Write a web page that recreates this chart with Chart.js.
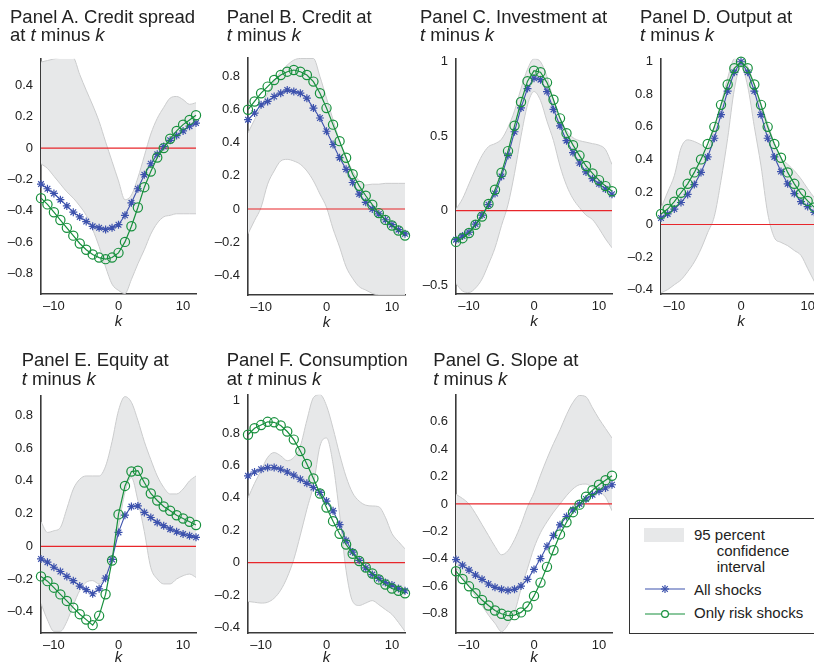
<!DOCTYPE html>
<html>
<head>
<meta charset="utf-8">
<script src="https://cdn.jsdelivr.net/npm/chart.js@4.4.1/dist/chart.umd.min.js"></script>
<style>
  body { margin:0; width:814px; height:666px; overflow:hidden; background:#fff; position:relative;
         font-family:"Liberation Sans", Arial, sans-serif; color:#222; }
  canvas { position:absolute; }
  .ttl { position:absolute; font-size:18.5px; line-height:18.5px; white-space:nowrap; z-index:2; }
  .lg { position:absolute; font-size:15px; line-height:15px; white-space:nowrap; z-index:2; }
  #legendBox { position:absolute; left:629px; top:518px; width:200px; height:116px;
               border:1px solid #333; box-sizing:border-box; background:#fff; }
</style>
</head>
<body>
<div id="legendBox"></div>
<script>
// ====== DATA ======
const ks = [-12,-11,-10,-9,-8,-7,-6,-5,-4,-3,-2,-1,0,1,2,3,4,5,6,7,8,9,10,11,12];
const xTicks = [-10, 0, 10];
const zeroLevel = 0;

// Panel A. Credit spread
const spreadAll  = [-0.23,-0.26,-0.29,-0.33,-0.37,-0.41,-0.44,-0.47,-0.50,-0.51,-0.52,-0.51,-0.49,-0.43,-0.35,-0.26,-0.17,-0.10,-0.04,0.01,0.05,0.08,0.11,0.14,0.16];
const spreadRisk = [-0.32,-0.36,-0.41,-0.46,-0.51,-0.56,-0.61,-0.65,-0.68,-0.70,-0.71,-0.70,-0.67,-0.60,-0.50,-0.38,-0.25,-0.15,-0.06,0.00,0.06,0.11,0.15,0.18,0.21];
const spreadHi   = [0.55,0.56,0.57,0.58,0.59,0.58,0.47,0.37,0.275,0.17,0.04,-0.085,-0.21,-0.33,-0.30,-0.19,-0.05,0.09,0.19,0.26,0.32,0.33,0.31,0.28,0.29];
const spreadLo   = [-0.10,-0.13,-0.18,-0.23,-0.28,-0.32,-0.37,-0.43,-0.52,-0.63,-0.76,-0.87,-0.91,-0.93,-0.84,-0.74,-0.65,-0.55,-0.48,-0.44,-0.43,-0.42,-0.42,-0.42,-0.42];
const spreadTicks = [-0.8,-0.6,-0.4,-0.2,0,0.2,0.4];

// Panel B. Credit
const creditAll  = [0.54,0.58,0.63,0.65,0.68,0.70,0.72,0.71,0.70,0.67,0.61,0.55,0.47,0.39,0.31,0.24,0.16,0.09,0.04,0.00,-0.03,-0.065,-0.095,-0.125,-0.15];
const creditRisk = [0.60,0.65,0.70,0.74,0.78,0.81,0.83,0.84,0.83,0.81,0.77,0.70,0.61,0.51,0.41,0.31,0.21,0.14,0.08,0.026,-0.025,-0.066,-0.10,-0.13,-0.16];
const creditHi   = [0.46,0.54,0.62,0.70,0.77,0.83,0.87,0.90,0.91,0.91,0.91,0.80,0.67,0.54,0.41,0.31,0.23,0.17,0.145,0.15,0.15,0.155,0.155,0.155,0.155];
const creditLo   = [-0.15,-0.07,0.01,0.15,0.23,0.29,0.30,0.29,0.27,0.23,0.17,0.09,0.01,-0.12,-0.23,-0.35,-0.42,-0.47,-0.49,-0.51,-0.52,-0.52,-0.52,-0.52,-0.52];
const creditTicks = [-0.4,-0.2,0,0.2,0.4,0.6,0.8];

// Panel C. Investment
const investAll  = [-0.195,-0.17,-0.145,-0.09,-0.03,0.04,0.115,0.23,0.37,0.53,0.69,0.82,0.89,0.88,0.80,0.68,0.57,0.47,0.39,0.32,0.26,0.215,0.18,0.145,0.11];
const investRisk = [-0.21,-0.185,-0.15,-0.095,-0.04,0.045,0.14,0.255,0.40,0.57,0.73,0.87,0.94,0.93,0.86,0.745,0.62,0.52,0.44,0.37,0.30,0.25,0.205,0.165,0.13];
const investHi   = [0.01,0.08,0.18,0.28,0.37,0.43,0.45,0.48,0.56,0.67,0.82,0.95,1.02,1.00,0.90,0.74,0.62,0.54,0.49,0.47,0.46,0.45,0.44,0.41,0.31];
const investLo   = [-0.49,-0.54,-0.55,-0.52,-0.46,-0.36,-0.25,-0.10,0.04,0.25,0.50,0.71,0.80,0.74,0.60,0.47,0.30,0.17,0.08,0.02,-0.03,-0.06,-0.12,-0.19,-0.25];
const investTicks = [-0.5,0,0.5,1];

// Panel D. Output
const outputAll  = [0.04,0.065,0.095,0.135,0.185,0.245,0.32,0.415,0.53,0.675,0.82,0.935,1.0,0.935,0.82,0.675,0.53,0.415,0.325,0.25,0.19,0.14,0.11,0.075,0.045];
const outputRisk = [0.065,0.095,0.14,0.195,0.25,0.32,0.40,0.495,0.60,0.735,0.86,0.96,1.0,0.96,0.86,0.735,0.60,0.495,0.41,0.32,0.25,0.19,0.145,0.105,0.07];
const outputHi   = [0.10,0.20,0.30,0.47,0.52,0.51,0.49,0.47,0.60,0.74,0.90,1.02,1.03,0.97,0.86,0.74,0.62,0.50,0.41,0.37,0.33,0.28,0.22,0.165,0.12];
const outputLo   = [-0.42,-0.40,-0.37,-0.34,-0.29,-0.23,-0.15,-0.05,0.05,0.27,0.53,0.83,0.97,0.85,0.60,0.36,0.07,-0.08,-0.11,-0.13,-0.16,-0.19,-0.27,-0.35,-0.42];
const outputTicks = [-0.4,-0.2,0,0.2,0.4,0.6,0.8,1];

// Panel E. Equity
const equityAll  = [-0.077,-0.097,-0.128,-0.154,-0.184,-0.21,-0.243,-0.265,-0.29,-0.26,-0.195,-0.08,0.085,0.19,0.243,0.247,0.207,0.176,0.146,0.126,0.105,0.089,0.075,0.065,0.055];
const equityRisk = [-0.184,-0.213,-0.253,-0.294,-0.334,-0.375,-0.415,-0.448,-0.482,-0.425,-0.293,-0.087,0.195,0.369,0.457,0.462,0.39,0.323,0.28,0.243,0.217,0.19,0.17,0.15,0.13];
const equityHi   = [0.15,0.085,0.095,0.115,0.23,0.35,0.41,0.43,0.43,0.43,0.49,0.64,0.83,0.915,0.88,0.77,0.64,0.53,0.43,0.36,0.32,0.32,0.35,0.40,0.43];
const equityLo   = [-0.35,-0.45,-0.52,-0.52,-0.46,-0.36,-0.27,-0.22,-0.21,-0.23,-0.18,-0.07,0.12,0.33,0.42,0.28,0.09,-0.13,-0.20,-0.23,-0.23,-0.20,-0.18,-0.17,-0.19];
const equityTicks = [-0.4,-0.2,0,0.2,0.4,0.6,0.8];

// Panel F. Consumption
const consAll  = [0.536,0.56,0.577,0.587,0.587,0.577,0.56,0.54,0.515,0.49,0.464,0.434,0.38,0.32,0.235,0.137,0.065,0.014,-0.033,-0.074,-0.098,-0.123,-0.139,-0.16,-0.174];
const consRisk = [0.79,0.83,0.85,0.87,0.867,0.847,0.81,0.76,0.69,0.61,0.52,0.427,0.34,0.256,0.178,0.112,0.055,0.01,-0.03,-0.067,-0.104,-0.135,-0.16,-0.174,-0.19];
const consHi   = [0.40,0.49,0.57,0.65,0.68,0.66,0.63,0.65,0.72,0.88,1.02,1.04,0.97,0.83,0.67,0.53,0.43,0.38,0.355,0.35,0.345,0.28,0.18,0.13,0.085];
const consLo   = [-0.24,-0.245,-0.25,-0.245,-0.22,-0.17,-0.09,0.02,0.17,0.33,0.48,0.72,0.77,0.61,0.30,-0.05,-0.24,-0.265,-0.25,-0.235,-0.26,-0.29,-0.32,-0.37,-0.425];
const consTicks = [-0.4,-0.2,0,0.2,0.4,0.6,0.8,1];

// Panel G. Slope
const slopeAll  = [-0.405,-0.446,-0.482,-0.518,-0.549,-0.583,-0.607,-0.622,-0.63,-0.622,-0.598,-0.549,-0.477,-0.398,-0.308,-0.229,-0.152,-0.092,-0.043,0,0.036,0.067,0.092,0.116,0.14];
const slopeRisk = [-0.49,-0.547,-0.60,-0.65,-0.70,-0.74,-0.776,-0.80,-0.814,-0.81,-0.79,-0.747,-0.67,-0.573,-0.458,-0.337,-0.222,-0.133,-0.06,-0.005,0.053,0.10,0.14,0.173,0.205];
const slopeHi   = [0.07,0.04,0.0,-0.07,-0.15,-0.23,-0.31,-0.37,-0.34,-0.26,-0.15,-0.02,0.08,0.21,0.33,0.44,0.54,0.65,0.74,0.79,0.78,0.70,0.62,0.55,0.48];
const slopeLo   = [-0.46,-0.53,-0.60,-0.67,-0.74,-0.81,-0.87,-0.93,-0.88,-0.79,-0.62,-0.47,-0.32,-0.21,-0.13,-0.06,0.0,0.06,0.11,0.14,0.145,0.12,0.09,0.05,-0.05];
const slopeTicks = [-0.8,-0.6,-0.4,-0.2,0,0.2,0.4,0.6];

// ====== STYLE ======
const FONT = '"Liberation Sans", Arial, sans-serif';
const INK = '#222';
const AXIS = '#3a3a3a';
const BAND = '#e7e8e9';
const BAND_EDGE = '#cbcccd';
const RED = '#e8262b';
const BLUE = '#3d52ad';
const GREEN = '#17903d';

// ====== PANELS (data refs + layout: plot box [left, right, top, bottom]) ======
const panels = [
  { all: spreadAll, risk: spreadRisk, hi: spreadHi, lo: spreadLo, yTicks: spreadTicks, ymin: -0.933, ymax: 0.571,
    box: [41, 196, 57, 294], row: 0, title: ['Panel A. Credit spread', 'at <i>t</i> minus <i>k</i>'], tx: 10 },
  { all: creditAll, risk: creditRisk, hi: creditHi, lo: creditLo, yTicks: creditTicks, ymin: -0.52, ymax: 0.914,
    box: [248, 405, 56, 295], row: 0, title: ['Panel B. Credit at', '<i>t</i> minus <i>k</i>'], tx: 226.7 },
  { all: investAll, risk: investRisk, hi: investHi, lo: investLo, yTicks: investTicks, ymin: -0.56, ymax: 1.02,
    box: [456, 612, 57, 294], row: 0, title: ['Panel C. Investment at', '<i>t</i> minus <i>k</i>'], tx: 420 },
  { all: outputAll, risk: outputRisk, hi: outputHi, lo: outputLo, yTicks: outputTicks, ymin: -0.427, ymax: 1.018,
    box: [661, 821, 57, 294], row: 0, title: ['Panel D. Output at', '<i>t</i> minus <i>k</i>'], tx: 640 },
  { all: equityAll, risk: equityRisk, hi: equityHi, lo: equityLo, yTicks: equityTicks, ymin: -0.53, ymax: 0.92,
    box: [41, 196, 394, 633], row: 1, title: ['Panel E. Equity at', '<i>t</i> minus <i>k</i>'], tx: 21.7 },
  { all: consAll, risk: consRisk, hi: consHi, lo: consLo, yTicks: consTicks, ymin: -0.435, ymax: 1.037,
    box: [248, 405, 393, 633], row: 1, title: ['Panel F. Consumption', 'at <i>t</i> minus <i>k</i>'], tx: 226.7 },
  { all: slopeAll, risk: slopeRisk, hi: slopeHi, lo: slopeLo, yTicks: slopeTicks, ymin: -0.94, ymax: 0.795,
    box: [456, 612, 393, 633], row: 1, title: ['Panel G. Slope at', '<i>t</i> minus <i>k</i>'], tx: 433.3 }
];

// ====== HELPERS ======
const fmt = v => v < 0 ? '\u2013' + String(Math.abs(v)) : String(v);
const pts = arr => ks.map((k, i) => ({ x: k, y: arr[i] }));

function makePanel(p) {
  const [L, R, T, B] = p.box;
  const yw = 40, padTop = 14, padRight = 10;
  const hx = p.row === 0 ? 37 : 34;
  const cx = L - yw, cy = T - padTop;
  const cv = document.createElement('canvas');
  cv.width = R - cx + padRight;
  cv.height = B - cy + hx;
  cv.style.left = cx + 'px';
  cv.style.top = cy + 'px';
  document.body.appendChild(cv);

  new Chart(cv, {
    type: 'line',
    data: {
      datasets: [
        { data: pts(p.hi), fill: '+1', backgroundColor: BAND, borderColor: BAND_EDGE, borderWidth: 1,
          pointRadius: 0, cubicInterpolationMode: 'monotone', order: 5 },
        { data: pts(p.lo), fill: false, borderColor: BAND_EDGE, borderWidth: 1,
          pointRadius: 0, cubicInterpolationMode: 'monotone', order: 4 },
        { data: [{ x: ks[0], y: zeroLevel }, { x: ks[ks.length - 1], y: zeroLevel }],
          borderColor: RED, borderWidth: 1.2, pointRadius: 0, order: 3 },
        { data: pts(p.all), borderColor: BLUE, borderWidth: 1.1, pointStyle: 'star', pointRadius: 4,
          pointBorderColor: BLUE, pointBorderWidth: 1.2, order: 2, clip: false },
        { data: pts(p.risk), borderColor: GREEN, borderWidth: 1.2, pointStyle: 'circle', pointRadius: 4.6,
          pointBorderColor: GREEN, pointBackgroundColor: 'rgba(0,0,0,0)', pointBorderWidth: 1.2, order: 1, clip: false }
      ]
    },
    options: {
      responsive: false, animation: false, devicePixelRatio: 1,
      layout: { padding: { top: padTop, right: padRight, left: 0, bottom: 0 } },
      plugins: { legend: { display: false }, tooltip: { enabled: false } },
      elements: { line: { tension: 0 } },
      scales: {
        x: {
          type: 'linear', min: ks[0], max: ks[ks.length - 1],
          afterBuildTicks: s => { s.ticks = xTicks.map(v => ({ value: v })); },
          afterFit: s => { s.height = hx; },
          grid: { display: true, drawOnChartArea: false, drawTicks: false },
          border: { display: true, color: AXIS, width: 1.6 },
          ticks: { padding: 5, color: INK, font: { family: FONT, size: 13 }, callback: fmt },
          title: { display: true, text: 'k', padding: 0, color: INK, font: { family: FONT, size: 15, style: 'italic' } }
        },
        y: {
          type: 'linear', min: p.ymin, max: p.ymax,
          afterBuildTicks: s => { s.ticks = p.yTicks.map(v => ({ value: v })); },
          afterFit: s => { s.width = yw; },
          grid: { display: true, drawOnChartArea: false, drawTicks: false },
          border: { display: true, color: AXIS, width: 1.6 },
          ticks: { padding: 8, color: INK, font: { family: FONT, size: 13 }, callback: fmt }
        }
      }
    }
  });

  const t = document.createElement('div');
  t.className = 'ttl';
  t.style.left = p.tx + 'px';
  t.style.top = (p.row === 0 ? 7.8 : 351.3) + 'px';
  t.innerHTML = p.title.join('<br>');
  document.body.appendChild(t);
}

panels.forEach(makePanel);

// ====== LEGEND ======
const legendTexts = [
  ['95 percent', 694, 526.8], ['confidence', 716.7, 542.8], ['interval', 716.7, 558.8],
  ['All shocks', 694, 582.3], ['Only risk shocks', 694, 605.3]
];
legendTexts.forEach(([txt, x, y]) => {
  const d = document.createElement('div');
  d.className = 'lg';
  d.style.left = x + 'px';
  d.style.top = y + 'px';
  d.textContent = txt;
  document.body.appendChild(d);
});
const sym = document.createElement('div');
sym.style.cssText = 'position:absolute;left:640px;top:524px;z-index:2';
sym.innerHTML =
  '<svg width="52" height="100" xmlns="http://www.w3.org/2000/svg">' +
  '<rect x="4" y="4" width="40" height="14" fill="' + BAND + '"/>' +
  '<line x1="5" y1="65" x2="45" y2="65" stroke="' + BLUE + '" stroke-width="1.2"/>' +
  '<g stroke="' + BLUE + '" stroke-width="1.2">' +
  '<line x1="21" y1="65" x2="29" y2="65"/><line x1="25" y1="61" x2="25" y2="69"/>' +
  '<line x1="22.2" y1="62.2" x2="27.8" y2="67.8"/><line x1="22.2" y1="67.8" x2="27.8" y2="62.2"/></g>' +
  '<line x1="5" y1="90" x2="45" y2="90" stroke="' + GREEN + '" stroke-width="1.2"/>' +
  '<circle cx="25" cy="90" r="3.4" fill="#fff" stroke="' + GREEN + '" stroke-width="1.2"/>' +
  '</svg>';
document.body.appendChild(sym);
</script>
</body>
</html>
